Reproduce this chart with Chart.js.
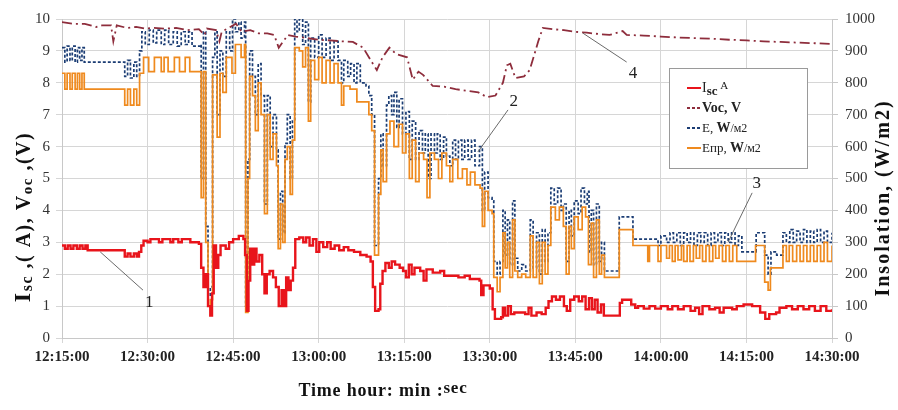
<!DOCTYPE html>
<html>
<head>
<meta charset="utf-8">
<script src="https://cdn.jsdelivr.net/npm/chart.js@4"></script>
<style>
  body { margin: 0; background: #fff; }
  canvas { display: block; }
</style>
</head>
<body>
<canvas id="chart" width="898" height="410"></canvas>
<script>
// time axis: minutes after 12:15:00
const timeLabels = ['12:15:00', '12:30:00', '12:45:00', '13:00:00', '13:15:00',
  '13:30:00', '13:45:00', '14:00:00', '14:15:00', '14:30:00'];

// short circuit current, A  [minute, value]
const isc = [[0,2.9],[0.5,2.8],[1,2.9],[1.5,2.8],[2,2.9],[2.6,2.8],[3.1,2.9],[3.6,2.8],[4.1,2.9],[4.5,2.75],
  [11,2.55],[11.5,2.65],[12,2.55],[12.6,2.65],[13.1,2.55],[13.5,2.7],[13.9,2.9],[14.3,3.05],[15,3.0],[15.5,3.1],
  [17,3.0],[17.6,3.1],[19,3.0],[19.5,3.1],[20.4,3.0],[21,3.1],[22.5,3.0],[24,2.95],
  [24.4,2.2],[24.8,1.6],[25.2,2.0],[25.6,1.0],[26,0.7],[26.3,1.4],[26.6,2.9],[27,2.2],[27.4,2.6],[27.8,2.9],
  [28.7,2.8],[29.3,3.0],[30,3.1],[31,3.2],[31.8,3.1],[32.1,2.6],[32.4,0.85],[32.7,1.8],[33,2.8],[33.3,2.3],
  [33.7,2.8],[34.1,2.4],[34.6,2.6],[35.1,2.0],[35.5,1.4],[35.9,2.0],[36.4,2.1],[37,1.9],[37.5,1.6],[38,1.0],
  [38.5,1.5],[38.9,1.0],[39.3,1.9],[39.7,1.5],[40.1,1.8],[40.5,2.2],[40.9,3.1],[41.6,3.15],[42.3,3.0],[42.8,3.15],
  [43.4,2.9],[44,3.1],[44.6,2.7],[45.1,3.0],[45.8,2.85],[46.5,3.0],[47.1,2.8],[47.8,2.9],[48.6,2.75],[49.4,2.85],
  [50.2,2.75],[51.2,2.7],[52.3,2.6],[53.4,2.55],[54.1,2.4],[54.5,1.6],[54.9,0.85],[55.5,0.9],[55.8,1.7],[56.2,2.1],
  [56.7,2.35],[57.3,2.2],[57.8,2.4],[58.4,2.3],[59.2,2.2],[59.8,2.1],[60.3,1.9],[60.8,2.3],[61.3,2.0],[61.8,2.2],
  [62.8,2.1],[63.4,1.8],[63.9,2.15],[65,2.05],[66.3,2.1],[67,1.95],[68.5,1.95],[69.5,1.9],[70.6,1.95],[71.5,1.85],
  [73.2,1.8],[73.5,1.35],[73.9,1.65],[75,1.55],[75.5,0.9],[75.9,0.6],[77,0.65],[77.3,0.95],[77.7,0.7],[78.2,1.0],
  [78.7,0.75],[79.3,0.8],[81.2,0.75],[81.8,0.95],[82.3,0.7],[83.2,0.8],[84.1,0.75],[84.8,0.95],[85.3,1.15],[85.9,1.3],
  [86.6,1.2],[87.3,1.3],[88,1.0],[88.5,0.85],[89.1,1.2],[89.8,1.3],[90.6,1.15],[91.2,1.3],[91.8,0.9],[92.4,1.25],
  [92.9,0.9],[93.4,1.2],[93.9,0.8],[94.5,1.05],[95,0.7],[97.4,0.7],[97.8,1.1],[98.2,1.2],[99.8,1.05],[100.5,0.95],
  [101,1.0],[102,0.92],[103,1.0],[104,0.92],[105,1.0],[106.2,0.9],[107,1.0],[108,0.9],[109,1.0],[110.2,0.85],
  [111,0.95],[111.7,0.75],[112.3,1.0],[113.5,0.9],[114.5,0.95],[115.3,0.8],[116,0.95],[117.5,0.9],[118.3,1.0],[119.5,1.05],
  [121,1.0],[122.4,0.8],[123.3,0.6],[124,0.75],[125.2,0.8],[125.8,0.95],[127,1.0],[128,0.9],[129,1.0],[130,0.9],
  [131,1.0],[132,0.85],[133,1.0],[134,0.85],[135,0.9]];

// open circuit voltage, V
const voc = [[0,9.9],[2,9.85],[4,9.85],[5,9.8],[6,9.75],[7,9.8],[8.6,9.8],[9,9.3],[9.6,9.8],[11.4,9.72],
  [13,9.75],[14.5,9.7],[16,9.72],[18,9.7],[20,9.72],[22,9.65],[24,9.68],[25,9.5],[25.4,9.7],[27,9.65],
  [27.6,9.3],[28,9.6],[29.5,9.75],[30.5,9.85],[31.5,9.6],[33,9.65],[34.5,9.55],[36,9.55],[37.2,9.5],[38,9.1],
  [38.8,9.3],[39.6,9.5],[41,9.45],[43,9.4],[45,9.35],[47,9.33],[49,9.3],[51,9.28],[52.8,9.1],[54.5,8.6],
  [55.2,8.4],[56.2,8.8],[57.4,9.1],[58.6,8.9],[60.5,8.8],[61.5,8.1],[62.5,8.35],[63.3,8.25],[65,7.9],[67,7.88],
  [69,7.8],[71,7.75],[73,7.7],[74.5,7.55],[76,7.6],[77.3,8.0],[78,8.55],[78.6,8.6],[79.5,8.15],[81,8.2],
  [82,8.4],[83.5,9.3],[84.3,9.72],[86,9.68],[88,9.65],[90,9.6],[92,9.57],[94,9.53],[96,9.5],[98.3,9.62],
  [99,9.5],[102,9.48],[105,9.45],[108,9.42],[111,9.4],[114,9.38],[117,9.35],[120,9.33],[123,9.3],[126,9.28],
  [129,9.26],[132,9.24],[135,9.22]];

// irradiance E, W/m2
const irr = [[0,910],[0.5,865],[0.9,915],[1.4,870],[1.8,915],[2.3,865],[2.7,910],[3.1,870],[3.5,910],[3.9,865],
  [11,820],[11.5,870],[12,815],[12.6,865],[13.1,820],[13.6,900],[14,960],[14.6,920],[15.3,965],[16,925],
  [16.6,965],[17.4,920],[18,965],[18.7,920],[19.5,960],[20.2,915],[20.9,960],[21.6,920],[22.2,960],[22.8,915],[24.2,920],
  [24.4,500],[24.8,960],[25.2,350],[25.6,130],[26,160],[26.4,880],[26.8,960],[27.2,700],[27.7,900],[28.2,820],
  [28.8,960],[29.4,900],[29.9,1000],[30.4,960],[31,990],[31.4,940],[32,990],[32.2,100],[32.6,560],[32.9,900],
  [33.4,820],[33.9,700],[34.4,860],[34.9,760],[35.5,420],[36,760],[36.5,600],[37,700],[37.6,590],[37.9,310],
  [38.3,460],[38.7,330],[39.1,610],[39.5,700],[40,500],[40.4,680],[40.8,1000],[41.2,960],[41.6,1000],[42.2,920],
  [42.7,990],[43.2,740],[43.6,940],[44.3,880],[45,950],[45.6,880],[46.3,940],[47,870],[47.7,930],[48.4,870],
  [49,800],[49.4,870],[50.1,820],[50.6,860],[51.2,800],[51.7,860],[52.3,800],[53.3,790],[53.8,760],[54.3,700],
  [54.8,290],[55.5,500],[55.9,640],[56.3,540],[56.9,730],[57.3,760],[57.8,700],[58.2,770],[58.7,660],[59.1,750],
  [59.7,640],[60.3,710],[60.9,560],[61.4,680],[62,560],[62.6,650],[63.2,580],[63.7,640],[64.2,500],[64.7,640],
  [65.3,580],[65.8,640],[66.3,560],[66.9,630],[67.4,570],[68,540],[68.5,620],[69,560],[69.5,620],[70.1,560],
  [70.6,620],[71.2,560],[71.8,620],[72.4,540],[73.2,600],[73.7,400],[74.1,520],[74.7,440],[75.4,430],[75.7,240],
  [76.3,200],[76.8,240],[77.3,400],[77.7,260],[78.1,370],[78.5,230],[79,430],[79.4,250],[79.9,210],[80.6,230],
  [81.3,210],[82.1,370],[82.6,220],[83.2,330],[83.7,200],[84.2,340],[84.7,240],[85.2,330],[85.7,470],[86.3,420],
  [86.9,470],[87.5,400],[87.9,420],[88.4,240],[88.9,400],[89.3,320],[89.8,430],[90.5,390],[91,470],[91.6,420],
  [92.1,460],[92.4,270],[92.8,400],[93.2,230],[93.7,420],[94.2,240],[94.6,300],[95.1,210],[97.4,210],[97.7,380],
  [99.8,380],[100.1,310],[104,310],[104.5,290],[105,320],[106,300],[106.6,330],[107.2,300],[107.8,330],[108.4,290],
  [109,330],[109.6,300],[110.2,330],[110.8,290],[111.4,330],[112,300],[112.6,330],[113.2,290],[113.8,330],[114.4,300],
  [115,330],[115.6,290],[116.2,330],[116.8,300],[117.4,330],[118,290],[118.6,320],[119.2,270],[121.5,270],[121.7,330],
  [123,330],[123.2,260],[123.8,200],[124.3,270],[125.3,260],[126.4,330],[127,300],[127.6,340],[128.2,300],[128.8,335],
  [129.4,300],[130,340],[130.6,300],[131.2,335],[131.8,300],[132.4,340],[133,300],[133.6,335],[134.2,300],[135,330]];

// effective irradiance Eпр, W/m2
const irrEff = [[0,830],[0.5,780],[0.9,830],[1.4,780],[1.8,830],[2.3,780],[2.7,830],[3.1,780],[3.5,830],[3.9,780],
  [11,730],[11.5,780],[12,730],[12.6,780],[13.1,730],[13.6,830],[14.3,880],[15.2,835],[16.2,880],[17.4,835],
  [17.9,880],[18.6,835],[19.7,880],[20.6,835],[21.6,880],[22.4,835],[24.2,835],
  [24.4,440],[24.8,835],[25.2,300],[25.6,100],[26,120],[26.4,825],[27.2,630],[27.7,830],[28.2,770],[28.8,880],
  [29.8,830],[30.4,920],[31.4,880],[32,920],[32.2,80],[32.6,500],[32.9,820],[33.4,760],[33.9,650],[34.4,800],
  [34.9,700],[35.5,390],[36,700],[36.5,560],[37,640],[37.6,540],[37.9,280],[38.3,420],[38.7,300],[39.1,560],
  [39.5,600],[40,450],[40.4,620],[40.8,910],[41.6,900],[42.2,850],[42.7,910],[43.2,680],[43.6,870],[44.3,810],
  [45,880],[45.6,800],[46.3,870],[47,800],[47.7,860],[48.4,800],[49,730],[49.4,790],[50.5,780],[51.7,740],
  [53.3,740],[53.8,700],[54.3,650],[54.8,260],[55.5,450],[55.9,590],[56.3,490],[56.9,640],[57.5,680],[58.2,600],
  [59,670],[59.7,580],[60.3,640],[60.9,500],[61.4,620],[62,490],[62.6,580],[63.4,560],[64,440],[64.5,580],
  [65.3,560],[66,500],[66.6,580],[67.4,540],[68,490],[68.5,560],[69.4,500],[70.2,530],[71,480],[71.6,520],
  [72.4,480],[73.3,470],[73.7,350],[74.1,460],[74.7,400],[75.4,390],[75.7,190],[76.3,145],[76.8,190],[77.3,330],
  [77.7,220],[78.1,300],[78.5,190],[79,370],[79.4,210],[79.9,190],[80.6,200],[81.3,190],[82.1,320],[82.6,190],
  [83.2,300],[83.7,170],[84.2,300],[84.7,200],[85.2,290],[85.7,410],[86.5,370],[87.2,410],[87.9,350],[88.4,200],
  [88.9,350],[89.3,280],[89.8,380],[90.5,340],[91.2,410],[91.8,380],[92.3,230],[92.8,360],[93.2,190],[93.7,370],
  [94.2,200],[94.6,260],[95.1,190],[97.4,190],[97.7,340],[99.8,340],[100.1,290],[102.4,290],[102.7,240],[103,290],
  [104.5,240],[105,290],[106,250],[106.5,290],[107,240],[107.5,290],[108,245],[108.6,290],[109,240],[109.6,290],
  [110.1,240],[110.7,290],[111.2,250],[111.8,290],[112.3,240],[112.9,290],[113.5,240],[114.1,290],[114.6,250],[115.2,290],
  [115.8,240],[116.4,290],[117,240],[117.6,290],[118.3,240],[121.5,240],[121.6,290],[123,290],[123.2,175],[123.8,150],
  [124.2,220],[125.3,220],[126.4,290],[127,240],[127.5,290],[128.1,240],[128.8,290],[129.4,240],[130,290],[130.6,240],
  [131.2,290],[131.8,240],[132.4,290],[133,240],[133.6,300],[134.2,240],[135,290]];

// numbered callouts: text, axis, anchor point on the curve, elbow, label spot
const callouts = [
  { text: '1', axis: 'y',  from: [6.7, 2.7],   to: [14.2, 1.5],  at: [15.3, 1.1] },
  { text: '2', axis: 'y1', from: [72.9, 583],  to: [78.2, 715],  at: [79.2, 740] },
  { text: '3', axis: 'y1', from: [116.8, 301], to: [121, 455],   at: [121.8, 485] },
  { text: '4', axis: 'y',  from: [91.3, 9.56], to: [99, 8.65],   at: [100.1, 8.3] }
];

const SERIF = '"Liberation Serif", "DejaVu Serif", serif';

// draws a row of text pieces with their own size / weight / vertical shift
function drawRuns(ctx, runs, x, y, align, spacing) {
  ctx.letterSpacing = (spacing || 0) + 'px';
  let total = 0;
  runs.forEach(r => {
    ctx.font = `${r.bold ? 'bold ' : ''}${r.size}px ${SERIF}`;
    r.w = ctx.measureText(r.t).width;
    total += r.w;
  });
  let cx = align === 'center' ? x - total / 2 : x;
  ctx.textAlign = 'left';
  ctx.textBaseline = 'alphabetic';
  runs.forEach(r => {
    ctx.font = `${r.bold ? 'bold ' : ''}${r.size}px ${SERIF}`;
    ctx.fillText(r.t, cx, y + (r.dy || 0));
    cx += r.w;
  });
  ctx.letterSpacing = '0px';
}

const extras = {
  id: 'extras',
  afterDatasetsDraw(chart) {
    const ctx = chart.ctx;
    const xs = chart.scales.x;
    ctx.save();

    // callouts
    callouts.forEach(c => {
      const ys = chart.scales[c.axis];
      ctx.strokeStyle = '#6a6a6a';
      ctx.lineWidth = 1;
      ctx.beginPath();
      ctx.moveTo(xs.getPixelForValue(c.from[0]), ys.getPixelForValue(c.from[1]));
      ctx.lineTo(xs.getPixelForValue(c.to[0]), ys.getPixelForValue(c.to[1]));
      ctx.stroke();
      ctx.fillStyle = '#222';
      ctx.font = `17px ${SERIF}`;
      ctx.textAlign = 'center';
      ctx.textBaseline = 'middle';
      ctx.fillText(c.text, xs.getPixelForValue(c.at[0]), ys.getPixelForValue(c.at[1]));
    });

    // legend box
    const lx = 669, ly = 68, lw = 138, lh = 100;
    ctx.fillStyle = '#fff';
    ctx.fillRect(lx, ly, lw, lh);
    ctx.strokeStyle = '#9a9a9a';
    ctx.lineWidth = 1;
    ctx.strokeRect(lx + 0.5, ly + 0.5, lw, lh);
    const rows = [
      [{ t: 'I', size: 14 }, { t: 'sc', size: 13, bold: true, dy: 3 }, { t: ' A', size: 11, dy: -3 }],
      [{ t: 'Voc, V', size: 14, bold: true }],
      [{ t: 'E, ', size: 13 }, { t: 'W', size: 14, bold: true }, { t: '/м2', size: 12 }],
      [{ t: 'Eпр, ', size: 13 }, { t: 'W', size: 14, bold: true }, { t: '/м2', size: 12 }]
    ];
    chart.data.datasets.forEach((ds, i) => {
      const ry = ly + 20 + i * 20;
      ctx.strokeStyle = ds.borderColor;
      ctx.lineWidth = 2;
      ctx.setLineDash(ds.borderDash && ds.borderDash.length ? [3, 2] : []);
      ctx.beginPath();
      ctx.moveTo(lx + 18, ry);
      ctx.lineTo(lx + 32, ry);
      ctx.stroke();
      ctx.setLineDash([]);
      ctx.fillStyle = '#222';
      drawRuns(ctx, rows[i], lx + 33, ry + 4, 'left');
    });

    // axis titles
    ctx.fillStyle = '#111';
    ctx.save();
    ctx.translate(30, 217);
    ctx.rotate(-Math.PI / 2);
    drawRuns(ctx, [
      { t: 'I', size: 24, bold: true }, { t: 'sc', size: 16, bold: true, dy: 2 },
      { t: ' ,( A), V', size: 20, bold: true }, { t: 'oc', size: 15, bold: true, dy: 2 },
      { t: ' ,(V)', size: 20, bold: true }
    ], 0, 0, 'center', 1.5);
    ctx.restore();

    ctx.save();
    ctx.translate(889, 198);
    ctx.rotate(-Math.PI / 2);
    drawRuns(ctx, [{ t: 'Insolation, (W/m2)', size: 20, bold: true }], 0, 0, 'center', 2);
    ctx.restore();

    drawRuns(ctx, [
      { t: 'Time hour: min :', size: 18, bold: true }, { t: 'sec', size: 17, bold: true, dy: -3 }
    ], 383, 396, 'center', 0.8);

    ctx.restore();
  }
};

new Chart(document.getElementById('chart'), {
  type: 'line',
  data: {
    datasets: [
      { label: 'Isc A', data: isc, yAxisID: 'y', borderColor: '#e8141b', borderWidth: 2.4, stepped: true, order: 0 },
      { label: 'Voc, V', data: voc, yAxisID: 'y', borderColor: '#8e2d3c', borderWidth: 1.8,
        borderDash: [10, 4, 2, 4], order: 1 },
      { label: 'E, W/м2', data: irr, yAxisID: 'y1', borderColor: '#1b3d74', borderWidth: 1.7,
        borderDash: [3, 2], stepped: true, order: 3 },
      { label: 'Eпр, W/м2', data: irrEff, yAxisID: 'y1', borderColor: '#ef8a1e', borderWidth: 1.7,
        stepped: true, order: 2 }
    ]
  },
  options: {
    responsive: false,
    animation: false,
    devicePixelRatio: 1,
    layout: { padding: { top: 19, left: 0, right: 0, bottom: 0 } },
    elements: { point: { radius: 0 }, line: { tension: 0 } },
    plugins: { legend: { display: false }, tooltip: { enabled: false } },
    scales: {
      x: {
        type: 'linear', min: 0, max: 135,
        afterFit: s => { s.height = 72; },
        grid: { color: '#d6d6d6', tickLength: 5 },
        border: { color: '#c8c8c8' },
        ticks: {
          stepSize: 15, maxRotation: 0, padding: 5, color: '#222',
          font: { family: SERIF, size: 15, weight: 'bold' },
          callback: v => timeLabels[Math.round(v / 15)]
        }
      },
      y: {
        position: 'left', min: 0, max: 10,
        afterFit: s => { s.width = 62; },
        grid: { color: '#d6d6d6', tickLength: 6 },
        border: { color: '#c8c8c8' },
        ticks: { stepSize: 1, padding: 6, color: '#333', font: { family: SERIF, size: 15 } }
      },
      y1: {
        position: 'right', min: 0, max: 1000,
        afterFit: s => { s.width = 66; },
        grid: { drawOnChartArea: false, color: '#c8c8c8', tickLength: 6 },
        border: { color: '#c8c8c8' },
        ticks: { stepSize: 100, padding: 7, color: '#333', font: { family: SERIF, size: 15 },
          callback: v => String(v) }
      }
    }
  },
  plugins: [extras]
});
</script>
</body>
</html>
